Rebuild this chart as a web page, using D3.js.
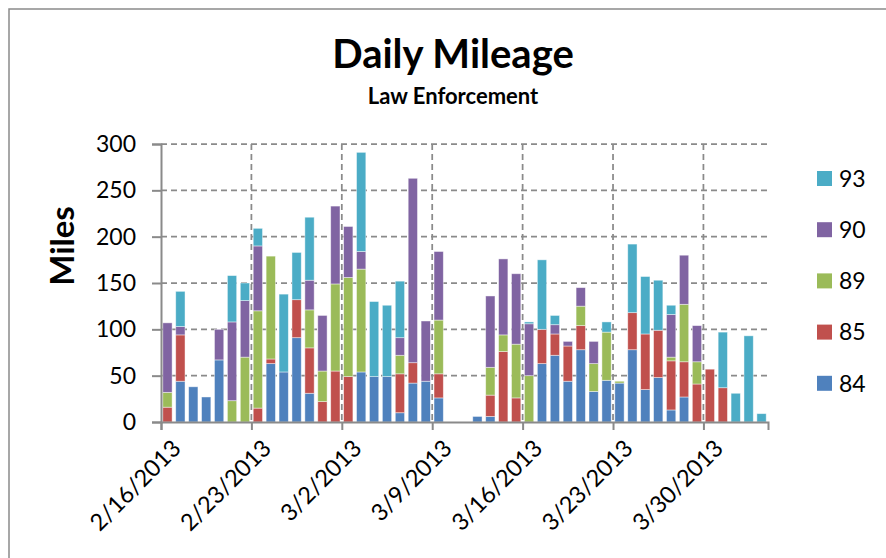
<!DOCTYPE html>
<html>
<head>
<meta charset="utf-8">
<script src="https://cdn.jsdelivr.net/npm/d3@7"></script>
<style>
  body { margin: 0; background: #fff; }
</style>
</head>
<body>
<script>
'use strict';

// days on the x axis (one bar per day)
const days = [
  "2/16/2013", "2/17/2013", "2/18/2013", "2/19/2013", "2/20/2013", "2/21/2013", "2/22/2013",
  "2/23/2013", "2/24/2013", "2/25/2013", "2/26/2013", "2/27/2013", "2/28/2013", "3/1/2013",
  "3/2/2013", "3/3/2013", "3/4/2013", "3/5/2013", "3/6/2013", "3/7/2013", "3/8/2013",
  "3/9/2013", "3/10/2013", "3/11/2013", "3/12/2013", "3/13/2013", "3/14/2013", "3/15/2013",
  "3/16/2013", "3/17/2013", "3/18/2013", "3/19/2013", "3/20/2013", "3/21/2013", "3/22/2013",
  "3/23/2013", "3/24/2013", "3/25/2013", "3/26/2013", "3/27/2013", "3/28/2013", "3/29/2013",
  "3/30/2013", "3/31/2013", "4/1/2013", "4/2/2013", "4/3/2013"
];

// series names (stack order, bottom to top)
const seriesNames = ["84", "85", "89", "90", "93"];

// miles per day for each unit
const miles84 = [0, 44, 38, 27, 67, 0, 0, 0, 63, 54, 91, 31, 0, 0,
                 0, 54, 49, 49, 10, 42, 44, 26, 0, 0, 6, 6, 0, 0,
                 0, 63, 72, 44, 78, 33, 45, 42, 78, 35, 48, 13, 27, 0,
                 0, 0, 0, 0, 0];
const miles85 = [16, 50, 0, 0, 0, 0, 0, 15, 5, 0, 41, 49, 22, 55,
                 49, 0, 0, 0, 42, 22, 0, 26, 0, 0, 0, 23, 76, 26,
                 0, 37, 23, 38, 26, 0, 0, 0, 40, 60, 51, 53, 38, 41,
                 57, 37, 0, 0, 0];
const miles89 = [16, 0, 0, 0, 0, 23, 70, 105, 111, 0, 0, 41, 33, 94,
                 107, 111, 0, 0, 20, 0, 0, 58, 0, 0, 0, 30, 18, 58,
                 50, 0, 0, 0, 21, 30, 52, 2, 0, 0, 0, 4, 62, 24,
                 0, 0, 0, 0, 0];
const miles90 = [75, 9, 0, 0, 33, 85, 61, 70, 0, 0, 0, 32, 60, 84,
                 55, 19, 0, 0, 19, 199, 65, 74, 0, 0, 0, 77, 82, 76,
                 56, 0, 10, 5, 20, 24, 0, 0, 0, 0, 0, 46, 53, 39,
                 0, 0, 0, 0, 0];
const miles93 = [0, 38, 0, 0, 0, 50, 19, 19, 0, 84, 51, 68, 0, 0,
                 0, 107, 81, 77, 61, 0, 0, 0, 0, 0, 0, 0, 0, 0,
                 2, 75, 10, 0, 0, 0, 11, 0, 74, 62, 54, 10, 0, 0,
                 0, 60, 31, 93, 9];

// axis labels
const xTickLabels = ["2/16/2013", "2/23/2013", "3/2/2013", "3/9/2013", "3/16/2013", "3/23/2013", "3/30/2013"];
const yTicks = [0, 50, 100, 150, 200, 250, 300];

const colors = {
  "84": "#4f81bd",
  "85": "#c0504d",
  "89": "#9bbb59",
  "90": "#8064a2",
  "93": "#4bacc6"
};

const FONT = "Lato, 'Open Sans', sans-serif";
const GRID = "#8a8a8a";

let svg = "";

window.onload = function() {
  svg = d3.select('body')
    .append('svg')
    .attr('width', 886)
    .attr('height', 558)
    .style('font-family', FONT);

  // chart frame (runs off the right and bottom edges)
  svg.append('rect')
    .attr('x', 9)
    .attr('y', 9)
    .attr('width', 1000)
    .attr('height', 700)
    .attr('fill', 'none')
    .attr('stroke', GRID)
    .attr('stroke-width', 1.5);

  const parse = d3.utcParse("%m/%d/%Y");
  const allSeries = [miles84, miles85, miles89, miles90, miles93];

  // build table for d3.stack
  const table = days.map((d, i) => {
    const row = { date: parse(d) };
    seriesNames.forEach((s, j) => { row[s] = allSeries[j][i]; });
    return row;
  });

  const first = table[0].date;
  const last = d3.utcDay.offset(table[table.length - 1].date, 1);

  const x = d3.scaleUtc()
    .domain([first, last])
    .range([161, 768]);

  const y = d3.scaleLinear()
    .domain([0, 300])
    .range([422, 144]);

  const tickDates = xTickLabels.map(parse);

  // horizontal gridlines
  svg.append('g')
    .selectAll('line')
    .data(yTicks.filter(t => t > 0))
    .enter()
    .append('line')
      .attr('x1', x(first))
      .attr('x2', x(last))
      .attr('y1', d => y(d))
      .attr('y2', d => y(d))
      .attr('stroke', GRID)
      .attr('stroke-width', 1.75)
      .attr('stroke-dasharray', '6,4');

  // vertical gridlines at weekly ticks
  svg.append('g')
    .selectAll('line')
    .data(tickDates.slice(1))
    .enter()
    .append('line')
      .attr('x1', d => x(d))
      .attr('x2', d => x(d))
      .attr('y1', y(300))
      .attr('y2', y(0))
      .attr('stroke', GRID)
      .attr('stroke-width', 1.75)
      .attr('stroke-dasharray', '6,4');

  // stacked bars
  const stacked = d3.stack().keys(seriesNames)(table);

  svg.append('g')
    .selectAll('g')
    .data(stacked)
    .enter()
    .append('g')
      .attr('fill', d => colors[d.key])
    .selectAll('rect')
    .data(d => d)
    .enter()
    .append('rect')
      .attr('x', d => {
        const slot = x(d3.utcDay.offset(d.data.date, 1)) - x(d.data.date);
        return x(d.data.date) + slot * 0.14;
      })
      .attr('width', d => (x(d3.utcDay.offset(d.data.date, 1)) - x(d.data.date)) * 0.72)
      .attr('y', d => y(d[1]))
      .attr('height', d => y(d[0]) - y(d[1]))
      .attr('stroke', '#ffffff')
      .attr('stroke-opacity', 0.55)
      .attr('stroke-width', 0.8);

  // y axis
  const yAxis = svg.append('g')
    .attr('transform', 'translate(161, 0)')
    .call(d3.axisLeft(y).tickValues(yTicks).tickSize(9).tickPadding(16));
  styleAxis(yAxis);
  yAxis.selectAll('text')
    .style('font-size', '23px');

  // x axis
  const xAxis = svg.append('g')
    .attr('transform', 'translate(0, 422)')
    .call(d3.axisBottom(x)
      .tickValues(tickDates)
      .tickFormat((d, i) => xTickLabels[i])
      .tickSize(8));
  styleAxis(xAxis);
  xAxis.selectAll('text')
    .style('font-size', '23.5px')
    .attr('text-anchor', 'end')
    .attr('dx', 0)
    .attr('dy', 0)
    .attr('transform', 'translate(13, 20) rotate(-45)');

  makeLabels();
  makeLegend();
};

// grey axis lines and black labels
function styleAxis(g) {
  g.select('.domain')
    .attr('stroke', GRID)
    .attr('stroke-width', 2);
  g.selectAll('.tick line')
    .attr('stroke', GRID)
    .attr('stroke-width', 2);
  g.selectAll('text')
    .attr('fill', '#000')
    .style('font-family', FONT);
}

// title, subtitle and axis title
function makeLabels() {
  svg.append('text')
    .attr('x', 453)
    .attr('y', 68)
    .attr('text-anchor', 'middle')
    .style('font-size', '40px')
    .style('font-weight', 'bold')
    .text('Daily Mileage');

  svg.append('text')
    .attr('x', 453)
    .attr('y', 104)
    .attr('text-anchor', 'middle')
    .style('font-size', '22px')
    .style('font-weight', 'bold')
    .text('Law Enforcement');

  svg.append('text')
    .attr('transform', 'translate(74, 246) rotate(-90)')
    .attr('text-anchor', 'middle')
    .style('font-size', '33px')
    .style('font-weight', 'bold')
    .text('Miles');
}

// legend, top series first
function makeLegend() {
  const items = seriesNames.slice().reverse();
  const legend = svg.append('g')
    .selectAll('g')
    .data(items)
    .enter()
    .append('g')
      .attr('transform', (d, i) => 'translate(817,' + (171 + i * 51.2) + ')');

  legend.append('rect')
    .attr('width', 15)
    .attr('height', 15)
    .attr('fill', d => colors[d]);

  legend.append('text')
    .attr('x', 22)
    .attr('y', 7.5)
    .attr('dy', '0.36em')
    .style('font-size', '23px')
    .text(d => d);
}
</script>
</body>
</html>
